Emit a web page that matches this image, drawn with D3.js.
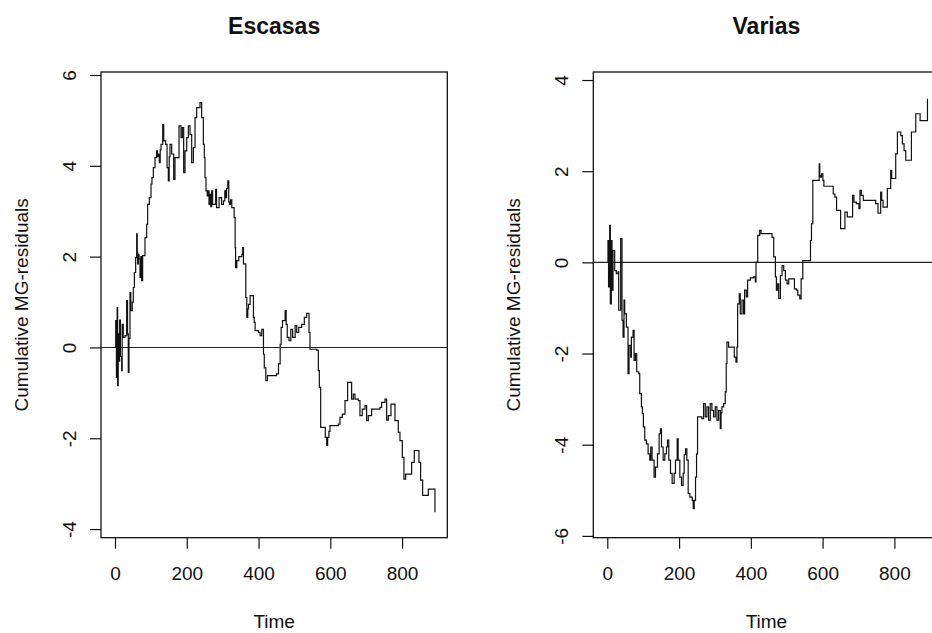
<!DOCTYPE html>
<html>
<head>
<meta charset="utf-8">
<script src="https://cdn.jsdelivr.net/npm/d3@7"></script>
<style>
  body { margin: 0; background: #fff; }
  svg { display: block; }
  text { font-family: "Liberation Sans", Arial, Helvetica, sans-serif; fill: #111; }
</style>
</head>
<body>
<svg id="chart" width="932" height="633"></svg>
<script>
// Cumulative martingale residuals over time, [time, cumulative residual] per step
const escasasSteps = [
  [0,0],[2,0.59],[4,-0.66],[6,0.88],[7.4,-0.84],[9,0.3],[11,-0.3],[13,0.6],[15,-0.2],[18.6,-0.51],
  [20,0.51],[23,0.22],[28,0.26],[32.5,1.03],[35,0.3],[37,-0.55],[39,0.2],[41.8,1.21],[44,0.81],[48,1.0],
  [51,1.32],[54,1.65],[57.6,1.98],[60.4,2.5],[62,2.1],[63.2,1.84],[65,2.05],[67,1.95],[69.7,1.54],[72,2.0],
  [74.3,1.47],[77,2.02],[83.6,2.42],[88.3,2.71],[91,3.15],[95.7,3.3],[100.3,3.6],[103,3.74],[106.8,3.96],
  [111.5,4.18],[116,4.33],[118,4.2],[120.8,4.26],[123.6,4.07],[126,4.35],[128.3,4.47],[133,4.91],[135.7,4.55],
  [141.3,4.47],[145,3.96],[148.6,3.67],[151,4.2],[153.3,4.47],[157.9,4.26],[163.5,3.7],[167.2,4.18],[178.4,4.88],
  [184,4.62],[187.7,4.84],[191.4,3.85],[195.1,4.33],[199.8,4.62],[204.4,4.88],[209,4.69],[213.7,4.07],[218.4,4.4],
  [223,5.06],[227.6,5.28],[236.9,5.39],[241.5,5.06],[246.2,4.47],[248.9,4.18],[250.8,3.74],[253.6,3.45],[257,3.34],
  [260,3.45],[262,3.15],[264.8,3.37],[267,3.1],[269.4,3.45],[272,3.15],[280.5,3.48],[283,3.08],[290,3.3],
  [297,3.15],[302.3,3.23],[306,3.45],[308.8,3.3],[311,3.5],[314.4,3.67],[317,3.2],[319,3.15],[322,3.25],
  [325.5,3.08],[332,2.86],[334.8,2.2],[336,1.76],[339.4,1.91],[345,2.0],[353.4,2.05],[356,2.2],[358,1.84],
  [364.5,1.1],[367.3,0.66],[370,0.85],[372,0.95],[376.6,1.14],[385.8,0.66],[388,0.55],[390.5,0.37],[399.8,0.33],
  [404.4,0.26],[409,0.4],[413.7,-0.15],[416,-0.45],[420.3,-0.73],[424.9,-0.62],[450,-0.58],[455.6,-0.36],
  [460.2,0.07],[463,0.44],[466.7,0.59],[474.1,0.81],[477,0.51],[480,0.22],[485,0.15],[490,0.4],[495,0.22],
  [502,0.48],[506.3,0.33],[512,0.44],[520.2,0.51],[527.6,0.66],[534.1,0.75],[540.6,0.33],[543.4,-0.04],
  [562,-0.06],[566.6,-0.51],[569.4,-0.88],[573.1,-1.76],[586,-1.98],[589.9,-2.16],[592.6,-1.98],[596,-1.85],
  [599.1,-1.72],[622.3,-1.69],[626.9,-1.54],[633.4,-1.47],[640.9,-1.17],[648.3,-0.77],[659.4,-1.14],[664.1,-1.03],
  [668.7,-1.14],[678,-1.17],[682.6,-1.5],[689.1,-1.36],[696.6,-1.28],[701.2,-1.61],[705.8,-1.5],[715.1,-1.36],
  [738.3,-1.32],[743,-1.21],[752.3,-1.14],[757,-1.6],[761.6,-1.5],[769,-1.25],[780.2,-1.61],[789.4,-1.87],
  [794.1,-2.05],[800.6,-2.42],[805.2,-2.9],[809.9,-2.79],[826.6,-2.53],[834,-2.27],[847,-2.53],[851.7,-2.92],
  [857.3,-3.26],[873.1,-3.12],[891.6,-3.63]
];

const variasSteps = [
  [0,0],[1.9,0.48],[3.5,-0.54],[6.6,0.81],[8.5,-0.91],[11.2,0.48],[13.1,-0.61],[15.9,0.26],[20.6,-0.18],
  [25.2,-0.25],[29.9,-0.21],[31.8,-1.05],[37.3,0.52],[41,-1.27],[43.9,-1.64],[46.6,-0.83],[48.5,-1.13],
  [53.2,-1.42],[57.8,-2.44],[60.6,-1.82],[65.3,-2.08],[67.1,-1.64],[71.8,-1.49],[74.6,-2.15],[78.3,-2.0],
  [82,-2.4],[87.6,-2.44],[90.4,-2.88],[95.1,-3.17],[97.8,-3.32],[100.6,-3.61],[104.4,-3.9],[109,-3.98],
  [113.7,-4.2],[118.3,-4.34],[121.1,-4.05],[124.8,-4.34],[130.4,-4.71],[134.2,-4.49],[139.8,-4.2],[144.4,-3.76],
  [148.1,-3.65],[151,-4.05],[155.6,-4.34],[160.2,-4.2],[164.9,-4.05],[167.7,-3.9],[171.4,-4.34],[176.1,-4.63],
  [180.7,-4.85],[186.3,-4.63],[190,-4.34],[194.7,-3.87],[197.5,-4.34],[202.1,-4.71],[206.8,-4.89],[211.4,-4.63],
  [214.2,-4.22],[218,-4.09],[221.7,-4.34],[225.4,-5.07],[230.1,-5.15],[236.6,-5.22],[239.4,-5.4],[242.2,-5.22],
  [245.9,-4.71],[248.7,-4.2],[251.5,-3.39],[263.6,-3.43],[268.3,-3.1],[272.9,-3.39],[277.6,-3.17],[282.2,-3.46],
  [286.9,-3.1],[291.5,-3.25],[296.2,-3.39],[300.8,-3.17],[305.5,-3.46],[310.1,-3.25],[314.8,-3.65],[317,-3.3],
  [319.4,-3.17],[324.1,-3.1],[328.7,-2.84],[331.5,-2.22],[333.4,-1.75],[338,-1.86],[353.8,-2.08],[358.5,-2.19],
  [361.3,-1.86],[363.2,-0.91],[367.8,-0.69],[370.6,-1.13],[375.3,-0.83],[379.9,-1.13],[382.7,-0.61],[387.4,-0.76],
  [391.1,-0.39],[398.6,-0.34],[407.9,-0.32],[412.5,-0.43],[414.4,0],[419.1,0.59],[424.7,0.7],[428.4,0.63],
  [459.1,0.55],[463.8,0.12],[468.4,-0.32],[471.2,-0.61],[474.9,-0.47],[477.7,-0.79],[482.4,-0.29],[487,-0.07],
  [491.7,-0.18],[496.3,-0.39],[501,-0.47],[505.6,-0.36],[521.5,-0.58],[527.1,-0.61],[530.8,-0.72],[536.4,-0.8],
  [540.1,-0.36],[544.8,0.04],[566.2,0.48],[569,0.85],[572.7,1.8],[590.4,2.16],[592,1.9],[594.1,1.87],
  [596.9,1.94],[600.7,1.8],[603.5,1.67],[629.6,1.5],[634.2,1.43],[638.9,1.14],[650.1,0.74],[662.2,1.1],
  [668.7,1.0],[683.6,1.47],[687.3,1.32],[693.9,1.29],[701.3,1.18],[704.1,1.58],[707.8,1.47],[713.4,1.36],
  [747.9,1.29],[754.4,1.08],[761.8,1.54],[764.6,1.36],[768.4,1.21],[780.4,1.62],[789.7,2.02],[792.5,1.84],
  [803.7,2.38],[808.4,2.86],[817.7,2.78],[822.3,2.6],[827,2.45],[831.7,2.24],[847.5,2.86],[859.6,3.26],
  [871.7,3.11],[892.2,3.59]
];

const timeTicks = [0, 200, 400, 600, 800];
const escasasTicks = [-4, -2, 0, 2, 4, 6];
const variasTicks = [-6, -4, -2, 0, 2, 4];
const panelTitles = ["Escasas", "Varias"];
const xTitle = "Time";
const yTitle = "Cumulative MG-residuals";

const svg = d3.select("#chart");

const boxWidth = 346.3;
const boxTop = 72;
const boxBottom = 537.7;
const timeDomain = [-39, 926];

const panels = [
  { title: panelTitles[0], steps: escasasSteps, ticks: escasasTicks, yDomain: [-4.19, 6.066], left: 101 },
  { title: panelTitles[1], steps: variasSteps, ticks: variasTicks, yDomain: [-6.04, 4.176], left: 593.3 }
];

const ink = "#111";
const plainNumber = d => String(d);   // keeps an ASCII hyphen for negatives

panels.forEach((p, i) => {
  const x = d3.scaleLinear().domain(timeDomain).range([p.left, p.left + boxWidth]);
  const y = d3.scaleLinear().domain(p.yDomain).range([boxBottom, boxTop]);
  const g = svg.append("g");

  const clipId = "plot-clip-" + i;
  svg.append("clipPath").attr("id", clipId)
    .append("rect")
    .attr("x", p.left).attr("y", boxTop)
    .attr("width", boxWidth).attr("height", boxBottom - boxTop);

  const plot = g.append("g").attr("clip-path", `url(#${clipId})`);

  // reference line at zero
  plot.append("line")
    .attr("x1", p.left).attr("x2", p.left + boxWidth)
    .attr("y1", y(0)).attr("y2", y(0))
    .attr("stroke", "#222").attr("stroke-width", 1.1);

  // cumulative residual process as a step function
  const stepLine = d3.line()
    .x(d => x(d[0]))
    .y(d => y(d[1]))
    .curve(d3.curveStepAfter);

  plot.append("path")
    .datum(p.steps)
    .attr("d", stepLine)
    .attr("fill", "none")
    .attr("stroke", ink)
    .attr("stroke-width", 1.2)
    .attr("stroke-linejoin", "miter");

  // frame around the plotting region
  g.append("rect")
    .attr("x", p.left).attr("y", boxTop)
    .attr("width", boxWidth).attr("height", boxBottom - boxTop)
    .attr("fill", "none").attr("stroke", ink).attr("stroke-width", 1.3);

  // bottom axis
  const xAxis = g.append("g")
    .attr("transform", `translate(0,${boxBottom})`)
    .call(d3.axisBottom(x).tickValues(timeTicks).tickSize(11).tickPadding(18).tickFormat(plainNumber));
  xAxis.select(".domain").remove();
  xAxis.selectAll(".tick line").attr("stroke", ink).attr("stroke-width", 1.2);
  xAxis.selectAll(".tick text")
    .attr("fill", ink)
    .style("font-size", "19px")
    .style("font-family", '"Liberation Sans", Arial, sans-serif');

  // left axis with labels parallel to the axis
  const yAxis = g.append("g")
    .attr("transform", `translate(${p.left},0)`)
    .call(d3.axisLeft(y).tickValues(p.ticks).tickSize(11).tickFormat(plainNumber));
  yAxis.select(".domain").remove();
  yAxis.selectAll(".tick line").attr("stroke", ink).attr("stroke-width", 1.2);
  yAxis.selectAll(".tick text")
    .attr("x", 0)
    .attr("dy", "0.35em")
    .attr("transform", "translate(-32,0) rotate(-90)")
    .attr("text-anchor", "middle")
    .attr("fill", ink)
    .style("font-size", "19px")
    .style("font-family", '"Liberation Sans", Arial, sans-serif');

  const cx = p.left + boxWidth / 2;

  g.append("text")
    .attr("x", cx).attr("y", 33.5)
    .attr("text-anchor", "middle")
    .style("font-size", "23px").style("font-weight", "bold")
    .text(p.title);

  g.append("text")
    .attr("x", cx).attr("y", 628)
    .attr("text-anchor", "middle")
    .style("font-size", "19px")
    .text(xTitle);

  g.append("text")
    .attr("transform", `translate(${p.left - 73},${(boxTop + boxBottom) / 2}) rotate(-90)`)
    .attr("text-anchor", "middle")
    .style("font-size", "19px")
    .text(yTitle);
});
</script>
</body>
</html>
